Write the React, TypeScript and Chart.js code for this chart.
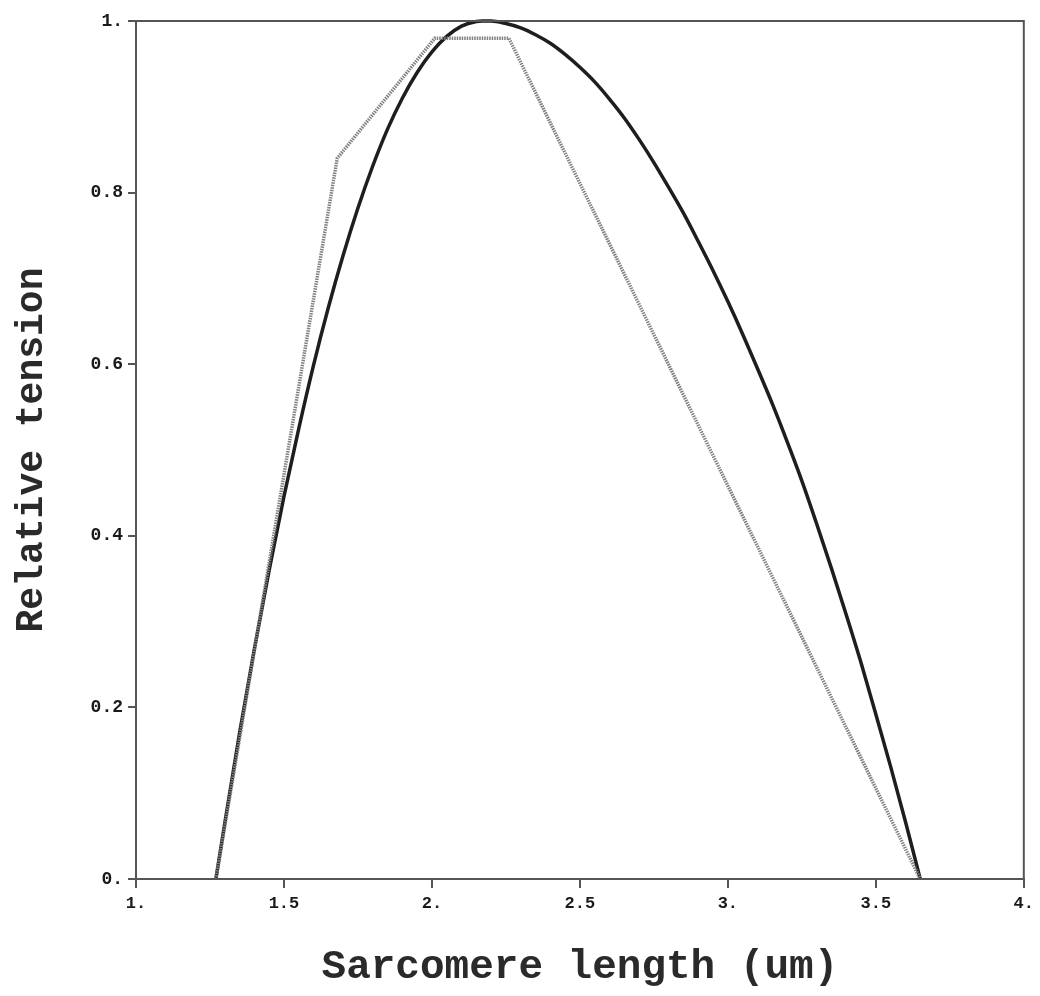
import React, { useEffect, useRef } from "react";
import { Chart, registerables } from "chart.js";

Chart.register(...registerables);

// Gray piecewise-linear length-tension relation
const grayX = [1.27, 1.68, 2.01, 2.26, 3.65];
const grayY = [0, 0.84, 0.98, 0.98, 0];

// Black smooth curve
const blackX = [
  1.27, 1.3, 1.35, 1.4, 1.45, 1.5, 1.55, 1.6, 1.65, 1.7, 1.75, 1.8, 1.85, 1.9, 1.95, 2.0,
  2.05, 2.1, 2.15, 2.17, 2.2, 2.25, 2.3, 2.35, 2.4, 2.45, 2.5, 2.55, 2.6, 2.65, 2.7, 2.75,
  2.8, 2.85, 2.9, 2.95, 3.0, 3.05, 3.1, 3.15, 3.2, 3.25, 3.3, 3.35, 3.4, 3.45, 3.5, 3.55,
  3.6, 3.65,
];
const blackY = [
  0, 0.065, 0.17, 0.268, 0.36, 0.446, 0.525, 0.599, 0.666, 0.727, 0.782, 0.831, 0.874, 0.91,
  0.94, 0.964, 0.982, 0.994, 0.9995, 1.0, 1.0, 0.997, 0.992, 0.984, 0.974, 0.961, 0.946, 0.929,
  0.909, 0.887, 0.862, 0.835, 0.806, 0.776, 0.743, 0.709, 0.673, 0.635, 0.595, 0.554, 0.51,
  0.464, 0.414, 0.362, 0.308, 0.252, 0.192, 0.131, 0.067, 0,
];

const xTickLabels = ["1.", "1.5", "2.", "2.5", "3.", "3.5", "4."];
const yTickLabels = ["0.", "0.2", "0.4", "0.6", "0.8", "1."];

const xTitle = "Sarcomere length (um)";
const yTitle = "Relative tension";

const FONT = "'Liberation Mono', 'DejaVu Sans Mono', monospace";
const AXIS_COLOR = "#555555";

const framePlugin = {
  id: "frame",
  afterDatasetsDraw(chart: any) {
    const { ctx, chartArea } = chart;
    ctx.save();
    ctx.strokeStyle = AXIS_COLOR;
    ctx.lineWidth = 2;
    ctx.strokeRect(chartArea.left, chartArea.top, chartArea.right - chartArea.left, chartArea.bottom - chartArea.top);
    ctx.restore();
  },
};

export default function App() {
  const ref = useRef<HTMLCanvasElement | null>(null);

  useEffect(() => {
    document.body.style.margin = "0";
    const canvas = ref.current;
    if (!canvas) return;
    const chart = new Chart(canvas, {
      type: "line",
      data: {
        datasets: [
          {
            label: "gray",
            data: grayX.map((x, i) => ({ x, y: grayY[i] })),
            borderColor: "#808080",
            borderWidth: 3.5,
            borderDash: [1.5, 1],
            pointRadius: 0,
            tension: 0,
            fill: false,
          },
          {
            label: "black",
            data: blackX.map((x, i) => ({ x, y: blackY[i] })),
            borderColor: "#1e1e1e",
            borderWidth: 3.5,
            pointRadius: 0,
            cubicInterpolationMode: "monotone",
            fill: false,
          },
        ],
      },
      options: {
        animation: false,
        responsive: false,
        devicePixelRatio: 1,
        clip: false as any,
        layout: { padding: { left: 0, right: 16, top: 21, bottom: 0 } },
        plugins: {
          legend: { display: false },
          tooltip: { enabled: false },
        },
        scales: {
          x: {
            type: "linear",
            min: 1,
            max: 4,
            afterFit(scale: any) {
              scale.height = 117;
            },
            afterBuildTicks(scale: any) {
              scale.ticks = xTickLabels.map((_, i) => ({ value: 1 + i * 0.5 }));
            },
            ticks: {
              autoSkip: false,
              maxRotation: 0,
              padding: 6,
              color: "#1a1a1a",
              font: { family: FONT, size: 17, weight: "bold" },
              callback: (_v: any, i: number) => xTickLabels[i],
            },
            grid: {
              drawOnChartArea: false,
              drawTicks: true,
              tickLength: 9,
              lineWidth: 2,
              color: AXIS_COLOR,
            },
            border: { display: true, color: AXIS_COLOR, width: 2 },
            title: {
              display: true,
              text: xTitle,
              color: "#2a2a2a",
              font: { family: FONT, size: 41, weight: "bold", lineHeight: 1 },
              padding: { top: 0, bottom: 8 },
            },
          },
          y: {
            type: "linear",
            min: 0,
            max: 1,
            afterFit(scale: any) {
              scale.width = 136;
            },
            afterBuildTicks(scale: any) {
              scale.ticks = yTickLabels.map((_, i) => ({ value: i * 0.2 }));
            },
            ticks: {
              autoSkip: false,
              padding: 5,
              color: "#1a1a1a",
              font: { family: FONT, size: 18, weight: "bold" },
              callback: (_v: any, i: number) => yTickLabels[i],
            },
            grid: {
              drawOnChartArea: false,
              drawTicks: true,
              tickLength: 8,
              lineWidth: 2,
              color: AXIS_COLOR,
            },
            border: { display: true, color: AXIS_COLOR, width: 2 },
            title: {
              display: true,
              text: yTitle,
              color: "#2a2a2a",
              font: { family: FONT, size: 38, weight: "bold", lineHeight: 1 },
              padding: { top: 13, bottom: 0 },
            },
          },
        },
      },
      plugins: [framePlugin],
    } as any);
    return () => chart.destroy();
  }, []);

  return (
    <div style={{ width: 1040, height: 996 }}>
      <canvas ref={ref} width={1040} height={996} style={{ display: "block" }} />
    </div>
  );
}
